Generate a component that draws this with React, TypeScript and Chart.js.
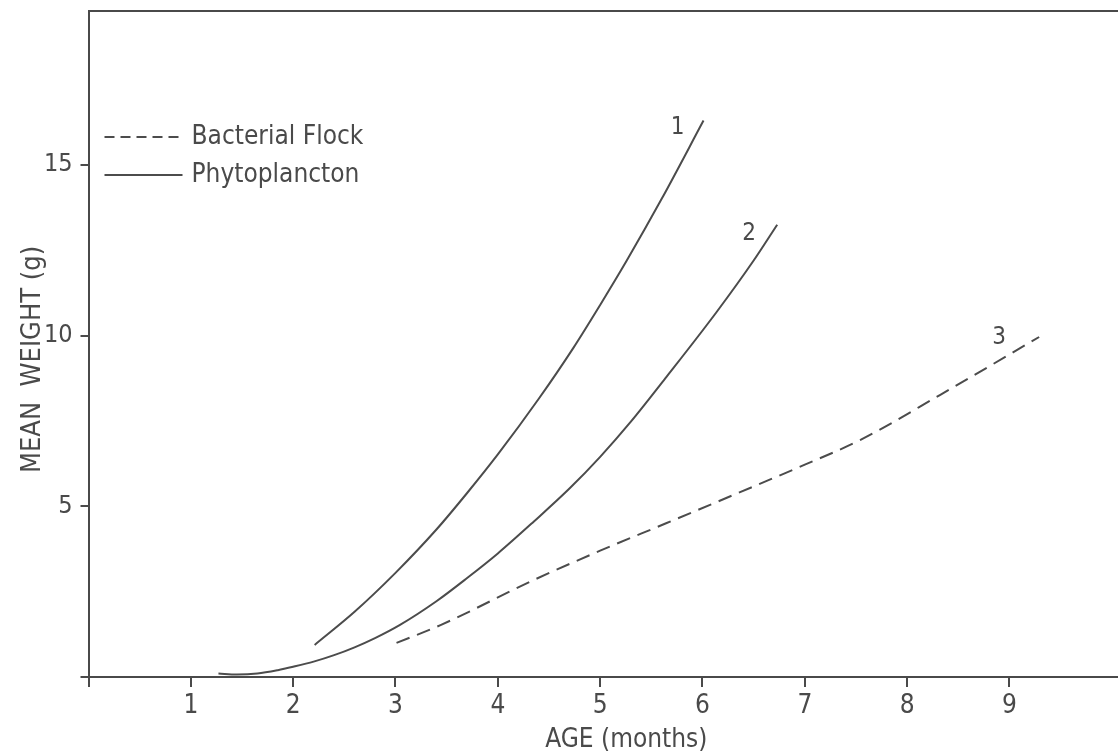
import React, { useEffect, useRef } from "react";
import { Chart, registerables } from "chart.js";

Chart.register(...registerables);

// ---- data ----
const curve1Ages = [2.21, 2.6, 3.0, 3.4, 3.7, 4.0, 4.4, 4.74, 5.0, 5.26, 5.6, 6.01];
const curve1Weights = [0.94, 1.91, 3.05, 4.32, 5.39, 6.52, 8.15, 9.65, 10.9, 12.2, 14.0, 16.3];

const curve2Ages = [1.27, 1.45, 1.65, 1.85, 2.0, 2.2, 2.4, 2.6, 2.8, 3.04, 3.4, 3.7, 4.0, 4.35, 4.7, 5.0, 5.3, 5.65, 6.14, 6.5, 6.73];
const curve2Weights = [0.1, 0.07, 0.1, 0.2, 0.3, 0.45, 0.64, 0.87, 1.14, 1.52, 2.22, 2.9, 3.62, 4.55, 5.52, 6.45, 7.48, 8.8, 10.7, 12.2, 13.25];

const curve3Ages = [3.01, 3.44, 4.35, 5.0, 5.65, 6.3, 7.0, 7.54, 8.32, 9.29];
const curve3Weights = [1.0, 1.52, 2.84, 3.7, 4.51, 5.33, 6.22, 6.94, 8.26, 9.96];

const curveLabels = ["1", "2", "3"];
const curveFoods = ["Phytoplancton", "Phytoplancton", "Bacterial Flock"];
const legendLabels = ["Bacterial Flock", "Phytoplancton"];

const xTickValues = [0, 1, 2, 3, 4, 5, 6, 7, 8, 9];
const yTickValues = [0, 5, 10, 15];
const xTitle = "AGE (months)";
const yTitle = "MEAN  WEIGHT (g)";

// ---- styling ----
const FONT = '"DejaVu Sans Condensed", "DejaVu Sans", sans-serif';
const INK = "#4a4a4a";
const LINE = "#4c4c4c";
const DASH = [14, 8];

const toPoints = (xs: number[], ys: number[]) => xs.map((x, i) => ({ x, y: ys[i] }));

const curveLabelOffsets = [
  [-26, 7],
  [-28, 9],
  [-40, 1],
];

const curveLabelPlugin = {
  id: "curveLabels",
  afterDatasetsDraw(chart: any) {
    const ctx = chart.ctx;
    ctx.save();
    ctx.font = `24px ${FONT}`;
    ctx.fillStyle = INK;
    ctx.textAlign = "center";
    ctx.textBaseline = "middle";
    chart.data.datasets.forEach((ds: any, i: number) => {
      const meta = chart.getDatasetMeta(i);
      const last = meta.data[meta.data.length - 1];
      if (!last) return;
      const [dx, dy] = curveLabelOffsets[i];
      ctx.fillText(ds.curveLabel, last.x + dx, last.y + dy);
    });
    ctx.restore();
  },
};

const inlineLegendPlugin = {
  id: "inlineLegend",
  afterDatasetsDraw(chart: any) {
    const ctx = chart.ctx;
    const { left } = chart.chartArea;
    ctx.save();
    legendLabels.forEach((lab, i) => {
      const ds = chart.data.datasets.find((d: any) => d.food === lab);
      const y = 137 + i * 38;
      const x0 = left + 16;
      const x1 = x0 + 78;
      ctx.strokeStyle = LINE;
      ctx.lineWidth = 2;
      ctx.setLineDash(ds && ds.borderDash && ds.borderDash.length ? [10, 6] : []);
      ctx.beginPath();
      ctx.moveTo(x0, y);
      ctx.lineTo(x1, y);
      ctx.stroke();
      ctx.setLineDash([]);
      ctx.font = `26px ${FONT}`;
      ctx.fillStyle = INK;
      ctx.textAlign = "left";
      ctx.textBaseline = "middle";
      ctx.fillText(lab, x1 + 9, y);
    });
    ctx.restore();
  },
};

export default function App() {
  const canvasRef = useRef<HTMLCanvasElement | null>(null);

  useEffect(() => {
    if (!canvasRef.current) return;
    const series = [
      [curve1Ages, curve1Weights],
      [curve2Ages, curve2Weights],
      [curve3Ages, curve3Weights],
    ];
    const chart = new Chart(canvasRef.current, {
      type: "scatter",
      data: {
        datasets: series.map(([xs, ys], i) => ({
          label: `${curveFoods[i]} ${curveLabels[i]}`,
          food: curveFoods[i],
          curveLabel: curveLabels[i],
          data: toPoints(xs, ys),
          showLine: true,
          borderColor: LINE,
          backgroundColor: LINE,
          borderWidth: 2,
          borderDash: curveFoods[i] === "Bacterial Flock" ? DASH : [],
          pointRadius: 0,
          pointHoverRadius: 0,
          cubicInterpolationMode: "monotone",
          fill: false,
        })) as any,
      },
      options: {
        animation: false,
        responsive: false,
        devicePixelRatio: 1,
        events: [],
        layout: { padding: { left: 0, right: 0, top: 11, bottom: 0 } },
        plugins: {
          legend: { display: false },
          tooltip: { enabled: false },
          title: { display: false },
        },
        scales: {
          x: {
            type: "linear",
            position: "bottom",
            min: 0,
            max: 10.51,
            afterBuildTicks: (s: any) => {
              s.ticks = xTickValues.map((v) => ({ value: v }));
            },
            afterFit: (s: any) => {
              s.height = 79;
              s.paddingLeft = 0;
              s.paddingRight = 0;
            },
            grid: {
              display: true,
              drawOnChartArea: false,
              drawTicks: true,
              tickLength: 10,
              color: INK,
              lineWidth: 2,
            },
            border: { display: true, color: INK, width: 2 },
            ticks: {
              callback: (v: any) => (v === 0 ? "" : String(v)),
              font: { family: FONT, size: 26 },
              color: INK,
              padding: 4,
              maxRotation: 0,
              autoSkip: false,
            },
            title: {
              display: true,
              text: xTitle,
              font: { family: FONT, size: 26 },
              color: INK,
              padding: { top: 0, bottom: 0 },
            },
          },
          x2: {
            type: "linear",
            position: "top",
            min: 0,
            max: 1,
            display: true,
            grid: { display: false },
            ticks: { display: false },
            border: { display: true, color: INK, width: 2 },
            afterFit: (s: any) => {
              s.height = 0;
              s.paddingLeft = 0;
              s.paddingRight = 0;
            },
          },
          y: {
            type: "linear",
            min: 0,
            max: 19.51,
            afterBuildTicks: (s: any) => {
              s.ticks = yTickValues.map((v) => ({ value: v }));
            },
            afterFit: (s: any) => {
              s.width = 88.5;
              s.paddingTop = 0;
              s.paddingBottom = 0;
            },
            grid: {
              display: true,
              drawOnChartArea: false,
              drawTicks: true,
              tickLength: 8,
              color: INK,
              lineWidth: 2,
            },
            border: { display: true, color: INK, width: 2 },
            ticks: {
              callback: (v: any) => (v === 0 ? "" : String(v)),
              font: { family: FONT, size: 25 },
              color: INK,
              padding: 8,
            },
            title: {
              display: true,
              text: yTitle + "    ",
              font: { family: FONT, size: 27 },
              color: INK,
              padding: { top: 17, bottom: 0 },
            },
          },
        },
      } as any,
      plugins: [inlineLegendPlugin, curveLabelPlugin],
    });
    return () => chart.destroy();
  }, []);

  return (
    <div
      style={{
        position: "absolute",
        left: 0,
        top: 0,
        width: 1118,
        height: 756,
        overflow: "hidden",
        background: "#ffffff",
      }}
    >
      <canvas ref={canvasRef} width={1164} height={756} style={{ display: "block" }} />
    </div>
  );
}
